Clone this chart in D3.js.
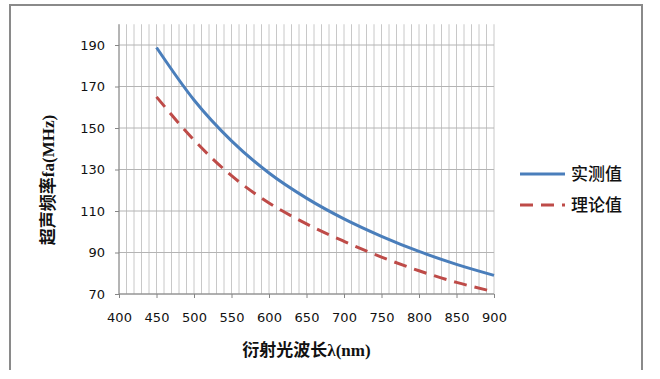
<!doctype html>
<html lang="zh">
<head>
  <meta charset="utf-8">
  <title>超声频率 vs 衍射光波长</title>
  <script type="text/javascript" src="https://cdnjs.cloudflare.com/ajax/libs/d3/7.8.5/d3.min.js"></script>
  <style>
    html, body { margin: 0; padding: 0; background: #fff; }
  </style>
</head>
<body>
  <svg width="660" height="379" id="svg"></svg>

<script type="text/javascript">

	// data
	var wavelengths = [450, 500, 550, 600, 650, 700, 750, 800, 850, 900];
	var measured    = [188.8, 163.5, 143.8, 128.3, 116.2, 106.2, 97.8, 90.5, 84.3, 79];
	var theoretical = [165, 144.2, 127, 113.9, 103.8, 95.4, 87.8, 81.2, 75.6, 71.1];
	var xTicks = [400, 450, 500, 550, 600, 650, 700, 750, 800, 850, 900];
	var yTicks = [70, 90, 110, 130, 150, 170, 190];
	var xMinor = d3.range(400, 901, 10);
	var seriesNames = ['实测值', '理论值'];

	var svg = d3.select('#svg');

	var plotLeft = 119, plotRight = 494, plotTop = 24.25, plotBottom = 294;

	var x = d3.scaleLinear().domain([400, 900]).range([plotLeft, plotRight]);
	var y = d3.scaleLinear().domain([70, 200]).range([plotBottom, plotTop]);

	// outer chart frame
	svg.append('path')
		.attr('d', 'M10,370 L10,5 L642,5 L642,370')
		.attr('fill', 'none')
		.attr('stroke', '#8a8a8a')
		.attr('stroke-width', 2);

	// vertical gridlines (every 10 nm)
	svg.append('g')
		.selectAll('line')
		.data(xMinor)
		.enter()
		.append('line')
		.attr('x1', function(d) { return x(d); })
		.attr('x2', function(d) { return x(d); })
		.attr('y1', plotTop)
		.attr('y2', plotBottom)
		.attr('stroke', '#c8c8c8')
		.attr('stroke-width', 1);

	// horizontal gridlines
	svg.append('g')
		.selectAll('line')
		.data(yTicks)
		.enter()
		.append('line')
		.attr('x1', plotLeft)
		.attr('x2', plotRight)
		.attr('y1', function(d) { return y(d); })
		.attr('y2', function(d) { return y(d); })
		.attr('stroke', '#b4b4b4')
		.attr('stroke-width', 1);

	// axes
	var xAxis = d3.axisBottom(x).tickValues(xTicks).tickSize(4).tickPadding(15);
	var yAxis = d3.axisLeft(y).tickValues(yTicks).tickSize(4).tickPadding(10);

	var gx = svg.append('g')
		.attr('transform', 'translate(0,' + plotBottom + ')')
		.call(xAxis);
	gx.select('.domain').attr('d', 'M' + plotLeft + ',0H' + plotRight);

	var gy = svg.append('g')
		.attr('transform', 'translate(' + plotLeft + ',0)')
		.call(yAxis);
	gy.select('.domain').attr('d', 'M0,' + plotTop + 'V' + plotBottom);

	svg.selectAll('.domain, .tick line')
		.attr('stroke', '#868686')
		.attr('stroke-width', 1);
	svg.selectAll('.tick text')
		.attr('font-family', 'DejaVu Sans, sans-serif')
		.attr('font-size', 13)
		.attr('fill', '#111');

	// series lines
	var line = d3.line()
		.x(function(d) { return x(d[0]); })
		.y(function(d) { return y(d[1]); })
		.curve(d3.curveMonotoneX);

	svg.append('path')
		.datum(d3.zip(wavelengths, theoretical))
		.attr('d', line)
		.attr('fill', 'none')
		.attr('stroke', '#be4b48')
		.attr('stroke-width', 3)
		.attr('stroke-dasharray', '13,8');

	svg.append('path')
		.datum(d3.zip(wavelengths, measured))
		.attr('d', line)
		.attr('fill', 'none')
		.attr('stroke', '#4a7ebb')
		.attr('stroke-width', 3);

	// axis titles
	svg.append('text')
		.attr('x', (plotLeft + plotRight) / 2)
		.attr('y', 356)
		.attr('text-anchor', 'middle')
		.attr('font-family', "'Liberation Serif', 'Noto Sans CJK SC', serif")
		.attr('font-weight', 'bold')
		.attr('font-size', 17)
		.attr('fill', '#111')
		.text('衍射光波长λ(nm)');

	svg.append('text')
		.attr('transform', 'translate(54,180) rotate(-90)')
		.attr('text-anchor', 'middle')
		.attr('font-family', "'Liberation Serif', 'Noto Sans CJK SC', serif")
		.attr('font-weight', 'bold')
		.attr('font-size', 17)
		.attr('fill', '#111')
		.text('超声频率fa(MHz)');

	// legend
	var legend = svg.append('g');
	var legendY = [174, 205];
	var legendColors = ['#4a7ebb', '#be4b48'];
	var legendDash = [null, '13,8'];

	seriesNames.forEach(function(name, i) {
		legend.append('line')
			.attr('x1', 520)
			.attr('x2', 565)
			.attr('y1', legendY[i])
			.attr('y2', legendY[i])
			.attr('stroke', legendColors[i])
			.attr('stroke-width', 3)
			.attr('stroke-dasharray', legendDash[i]);
		legend.append('text')
			.attr('x', 571)
			.attr('y', legendY[i] + 6)
			.attr('font-family', 'Noto Sans CJK SC, sans-serif')
			.attr('font-weight', 500)
			.attr('font-size', 17)
			.attr('fill', '#111')
			.text(name);
	});

</script>
</body>
</html>
